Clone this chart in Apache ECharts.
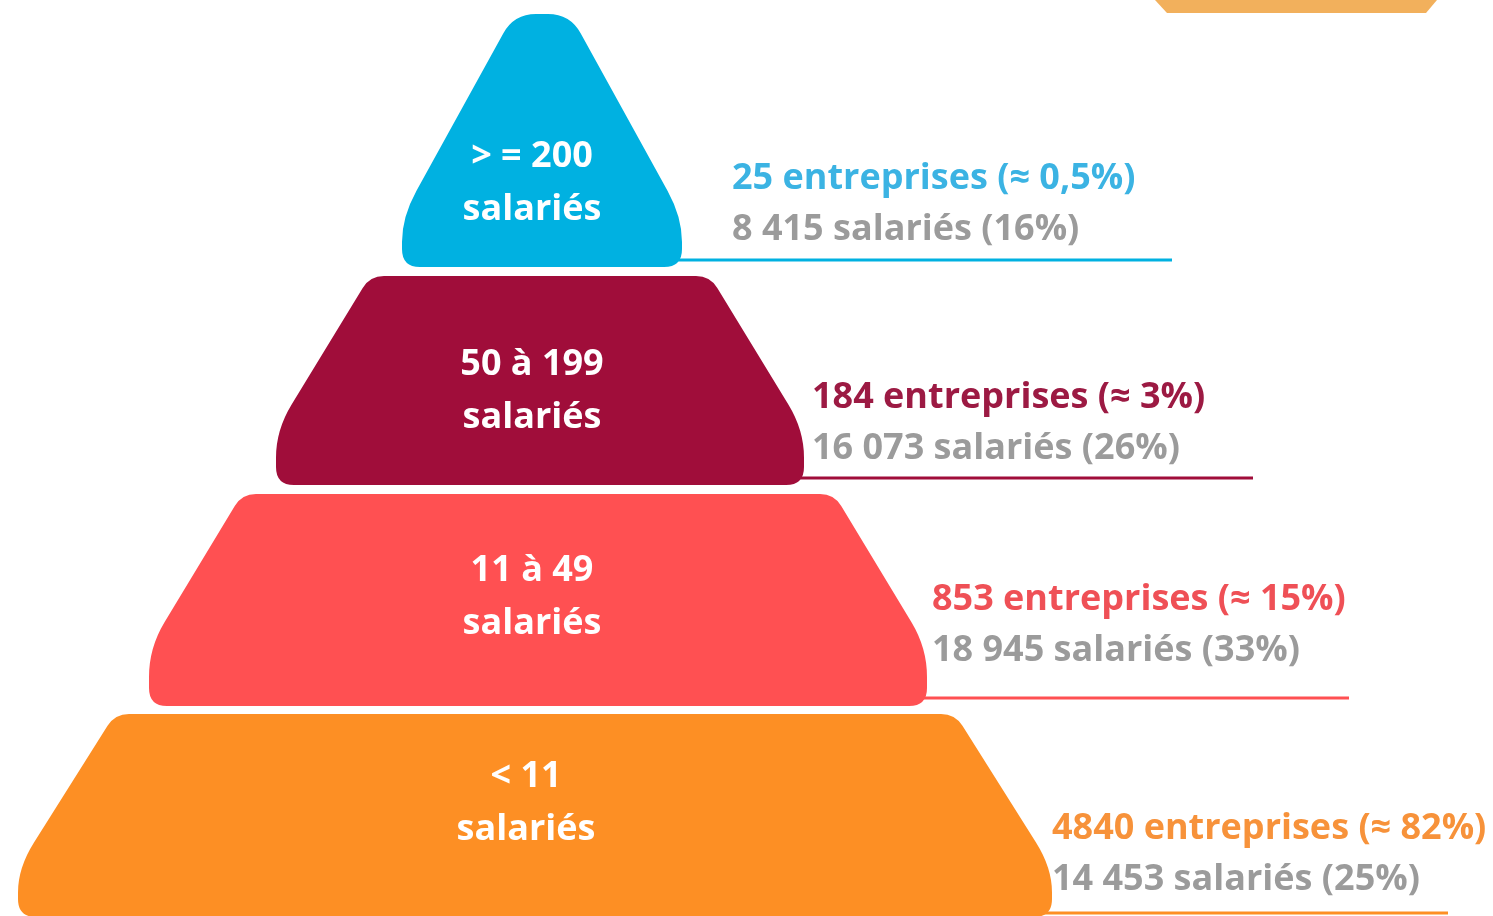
<!DOCTYPE html>
<html>
<head>
<meta charset="utf-8">
<title>Entreprises par taille</title>
<script src="https://cdn.jsdelivr.net/npm/echarts@6/dist/echarts.min.js"></script>
<style>
	html, body { margin: 0; padding: 0; background: #ffffff; }
	#pyramid { width: 1493px; height: 916px; }
</style>
</head>
<body>
<div id="pyramid"></div>
<script>
// tranches d'effectif (du haut vers le bas de la pyramide)
var categories = ['> = 200', '50 à 199', '11 à 49', '< 11'];
var unitLabel = 'salariés';
var entreprises = [25, 184, 853, 4840];
var entreprisesPct = [0.5, 3, 15, 82];
var salaries = [8415, 16073, 18945, 14453];
var salariesPct = [16, 26, 33, 25];

// couleurs
var shapeColors = ['#00b1e1', '#a00d3a', '#ff5052', '#fd8f24'];
var textColors = ['#3bb3e3', '#9c1a43', '#ef5056', '#f7923a'];
var greyText = '#9b9b9b';

// forme des étages (unités des axes = pixels)
var levelTop = [14, 276, 494, 714];
var levelKnee = [217, 430, 648, 868];
var levelBottom = [267, 485, 706, 917];
var levelCenter = [542, 540, 538, 535];
var topHalf = [28, 170, 296, 420];
var baseHalf = [140, 264, 389, 517];
var labelX = [532, 532, 532, 526];
var labelY = [155, 363, 569, 775];
var infoX = [732, 812, 932, 1052];
var infoY = [177, 396, 598, 827];
var lineY = [260, 478, 698, 913];
var lineEnd = [1172, 1253, 1349, 1448];

var FONT = '"Open Sans", Lato, sans-serif';

function fmtThousands(n) {
	return String(n).replace(/\B(?=(\d{3})+(?!\d))/g, ' ');
}

function fmtPct(n) {
	return String(n).replace('.', ',') + '%';
}

/**
 * chemin fermé avec coins arrondis (courbes quadratiques)
 */
function roundedPath(pts, radii) {
	var d = '';
	var n = pts.length;
	for (var i = 0; i < n; i++) {
		var p = pts[i];
		var prev = pts[(i - 1 + n) % n];
		var next = pts[(i + 1) % n];
		var d1x = prev[0] - p[0], d1y = prev[1] - p[1];
		var d2x = next[0] - p[0], d2y = next[1] - p[1];
		var l1 = Math.sqrt(d1x * d1x + d1y * d1y);
		var l2 = Math.sqrt(d2x * d2x + d2y * d2y);
		var r1 = Math.min(radii[i], l1 / 2);
		var r2 = Math.min(radii[i], l2 / 2);
		var ax = p[0] + d1x / l1 * r1, ay = p[1] + d1y / l1 * r1;
		var bx = p[0] + d2x / l2 * r2, by = p[1] + d2y / l2 * r2;
		d += (i == 0 ? 'M' : 'L') + ax + ' ' + ay;
		d += 'Q' + p[0] + ' ' + p[1] + ' ' + bx + ' ' + by;
	}
	return d + 'Z';
}

function renderLevel(params, api) {
	var i = api.value(0);
	var cx = levelCenter[i];
	var pts = [
		api.coord([cx - topHalf[i], levelTop[i]]),
		api.coord([cx + topHalf[i], levelTop[i]]),
		api.coord([cx + baseHalf[i], levelKnee[i]]),
		api.coord([cx + baseHalf[i], levelBottom[i]]),
		api.coord([cx - baseHalf[i], levelBottom[i]]),
		api.coord([cx - baseHalf[i], levelKnee[i]])
	];
	var rTop = i == 0 ? 22 : 14;
	var radii = [rTop, rTop, 30, 18, 18, 30];

	var lineStart = api.coord([cx + baseHalf[i] - 20, lineY[i]]);
	var lineStop = api.coord([lineEnd[i], lineY[i]]);
	var lab = api.coord([labelX[i], labelY[i]]);
	var info = api.coord([infoX[i], infoY[i]]);

	return {
		type: 'group',
		children: [
			{
				type: 'line',
				shape: { x1: lineStart[0], y1: lineStart[1], x2: lineStop[0], y2: lineStop[1] },
				style: { stroke: shapeColors[i], lineWidth: 3 }
			},
			{
				type: 'path',
				shape: { pathData: roundedPath(pts, radii) },
				style: { fill: shapeColors[i] }
			},
			{
				type: 'text',
				x: lab[0], y: lab[1],
				style: {
					text: categories[i] + '\n' + unitLabel,
					fill: '#ffffff', font: 'bold 36px ' + FONT, lineHeight: 53,
					align: 'center', verticalAlign: 'top', padding: [-25, 0, 0, 0]
				}
			},
			{
				type: 'text',
				x: info[0], y: info[1],
				style: {
					text: '{a|' + entreprises[i] + ' entreprises (≈ ' + fmtPct(entreprisesPct[i]) + ')}\n{b|'
						+ fmtThousands(salaries[i]) + ' ' + unitLabel + ' (' + fmtPct(salariesPct[i]) + ')}',
					align: 'left', verticalAlign: 'top', padding: [-24, 0, 0, 0],
					rich: {
						a: { fill: textColors[i], font: 'bold 36px ' + FONT, lineHeight: 51 },
						b: { fill: greyText, font: 'bold 36px ' + FONT, lineHeight: 51 }
					}
				}
			}
		]
	};
}

var chart = echarts.init(document.getElementById('pyramid'));

var option = {
	animation: false,
	backgroundColor: '#ffffff',
	grid: { left: 0, right: 0, top: 0, bottom: 0 },
	xAxis: { type: 'value', min: 0, max: 1493, show: false },
	yAxis: { type: 'value', min: 0, max: 916, inverse: true, show: false },
	graphic: [
		{
			// bandeau décoratif en haut à droite
			type: 'polygon',
			shape: { points: [[1155, 0], [1437, 0], [1426, 13], [1167, 13]] },
			style: { fill: '#f2b05c' }
		}
	],
	series: [
		{
			type: 'custom',
			renderItem: renderLevel,
			clip: false,
			data: categories.map(function (c, i) { return [i]; })
		}
	]
};

chart.setOption(option);
</script>
</body>
</html>
